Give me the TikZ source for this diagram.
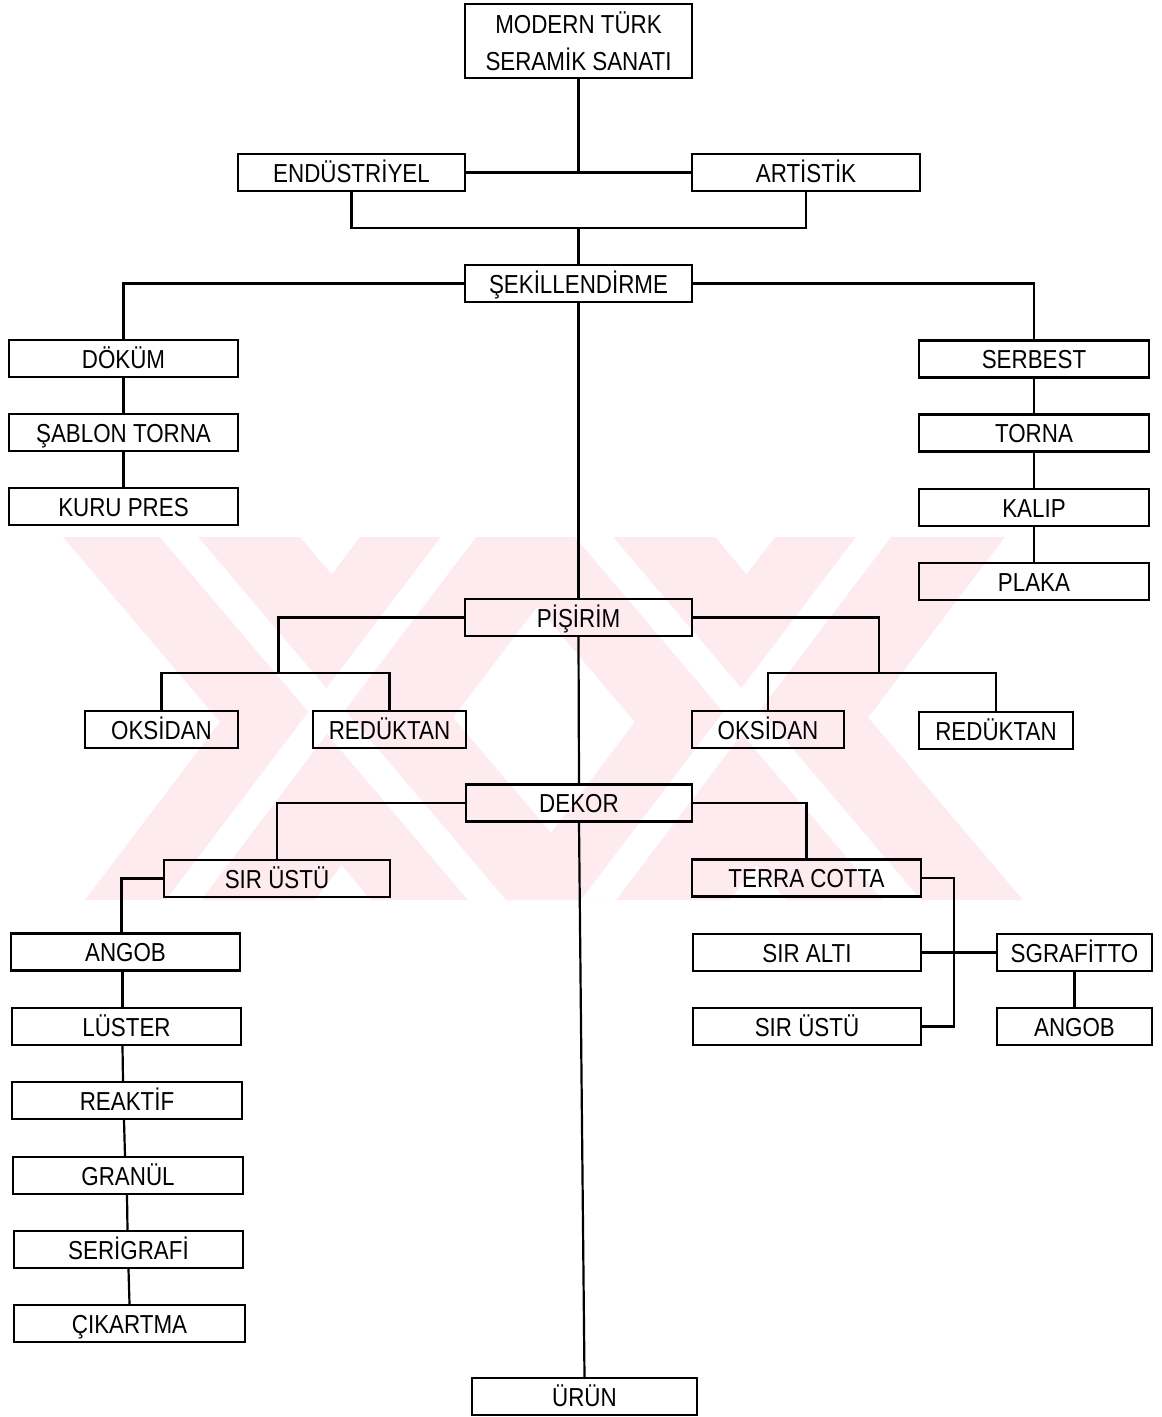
\documentclass[tikz,border=0pt]{standalone}
\usepackage{fontspec}
\setmainfont{Liberation Sans}[FakeStretch=0.86]
\definecolor{wm}{RGB}{253,235,239}
\newcommand\boxfont{\fontsize{26}{37}\selectfont}
\tikzset{
  box/.style={draw, line width=2.4pt, inner sep=0pt, minimum height=37pt,
    text height=19pt, text depth=0pt, font=\boxfont},
  conn/.style={line width=2.2pt}
}
\begin{document}
\begin{tikzpicture}[x=1pt,y=-1pt]
\useasboundingbox (0,0) rectangle (1162,1417);
% watermark
\begin{scope}
\clip (0,537) rectangle (1162,900);
\fill[wm] (63,537) -- (300,537) -- (608,900) -- (371,900) -- cycle;
\fill[wm] (360,537) -- (590,537) -- (315,900) -- (85,900) -- cycle;
\fill[wm] (478,537) -- (715,537) -- (1023,900) -- (786,900) -- cycle;
\fill[wm] (775,537) -- (1005,537) -- (730,900) -- (500,900) -- cycle;
\fill[white] (160,537) -- (198,537) -- (506,900) -- (468,900) -- cycle;
\fill[white] (441,537) -- (476,537) -- (201,900) -- (166,900) -- cycle;
\fill[white] (575,537) -- (613,537) -- (921,900) -- (883,900) -- cycle;
\fill[white] (856,537) -- (891,537) -- (616,900) -- (581,900) -- cycle;
\end{scope}
% nodes
\node[box, minimum width=227pt, minimum height=74pt, text height=, text depth=, align=center] (modern) at (578.5,41) {MODERN TÜRK\\SERAMİK SANATI};
\node[box, minimum width=227pt] (endus) at (351.5,172.5) {ENDÜSTRİYEL};
\node[box, minimum width=228pt] (artis) at (806,172.5) {ARTİSTİK};
\node[box, minimum width=227pt] (sekil) at (578.5,283.5) {ŞEKİLLENDİRME};
\node[box, minimum width=229pt] (dokum) at (123.5,358.5) {DÖKÜM};
\node[box, minimum width=229pt] (sablon) at (123.5,432.5) {ŞABLON TORNA};
\node[box, minimum width=229pt] (kuru) at (123.5,506.5) {KURU PRES};
\node[box, minimum width=230pt] (serbest) at (1034,359) {SERBEST};
\node[box, minimum width=230pt] (torna) at (1034,433) {TORNA};
\node[box, minimum width=230pt] (kalip) at (1034,507.5) {KALIP};
\node[box, minimum width=230pt] (plaka) at (1034,581.5) {PLAKA};
\node[box, minimum width=227pt] (pisirim) at (578.5,617.5) {PİŞİRİM};
\node[box, minimum width=153pt] (oksL) at (161.5,729.5) {OKSİDAN};
\node[box, minimum width=153pt] (redL) at (389.5,729.5) {REDÜKTAN};
\node[box, minimum width=152pt] (oksR) at (768,729.5) {OKSİDAN};
\node[box, minimum width=154pt] (redR) at (996,730.5) {REDÜKTAN};
\node[box, minimum width=226pt] (dekor) at (579,803) {DEKOR};
\node[box, minimum width=226pt] (sirL) at (277,878.5) {SIR ÜSTÜ};
\node[box, minimum width=229pt] (terra) at (806.5,878) {TERRA COTTA};
\node[box, minimum width=229pt] (angobL) at (125.5,952) {ANGOB};
\node[box, minimum width=229pt] (luster) at (126.5,1026.5) {LÜSTER};
\node[box, minimum width=230pt] (reaktif) at (127,1100.5) {REAKTİF};
\node[box, minimum width=230pt] (granul) at (128,1175.5) {GRANÜL};
\node[box, minimum width=229pt] (serig) at (128.5,1249.5) {SERİGRAFİ};
\node[box, minimum width=231pt] (cikart) at (129.5,1323.5) {ÇIKARTMA};
\node[box, minimum width=225pt] (urun) at (584.5,1396.5) {ÜRÜN};
\node[box, minimum width=228pt] (siralti) at (807,952.5) {SIR ALTI};
\node[box, minimum width=228pt] (sirR) at (807,1026.5) {SIR ÜSTÜ};
\node[box, minimum width=155pt] (sgraf) at (1074.5,952.5) {SGRAFİTTO};
\node[box, minimum width=155pt] (angobR) at (1074.5,1026.5) {ANGOB};
% junctions
\coordinate (j2) at (578.5,228);
\coordinate (p1) at (278.5,673);
\coordinate (p2) at (879,673);
\coordinate (t1) at (954,0);
% connectors
\draw[conn] (modern.south) -- (modern.south |- endus.east);
\draw[conn, line width=2.8pt] (endus.east) -- (artis.west);
\draw[conn] (endus.south) |- (j2) -| (artis.south);
\draw[conn] (j2) -- (sekil.north);
\draw[conn] (sekil.west) -| (dokum.north);
\draw[conn] (sekil.east) -| (serbest.north);
\draw[conn] (dokum.south) -- (sablon.north);
\draw[conn] (sablon.south) -- (kuru.north);
\draw[conn] (serbest.south) -- (torna.north);
\draw[conn] (torna.south) -- (kalip.north);
\draw[conn] (kalip.south) -- (plaka.north);
\draw[conn] (sekil.south) -- (pisirim.north);
\draw[conn] (pisirim.west) -| (p1);
\draw[conn] (oksL.north) |- (p1) -| (redL.north);
\draw[conn] (pisirim.east) -| (p2);
\draw[conn] (oksR.north) |- (p2) -| (redR.north);
\draw[conn] (pisirim.south) -- (dekor.north);
\draw[conn] (dekor.west) -| (sirL.north);
\draw[conn] (dekor.east) -| (terra.north);
\draw[conn] (dekor.south) -- (urun.north);
\draw[conn] (sirL.west) -| ([xshift=-4pt]angobL.north);
\draw[conn] ([xshift=-3pt]angobL.south) -- ([xshift=-4pt]luster.north);
\draw[conn] ([xshift=-4pt]luster.south) -- ([xshift=-4pt]reaktif.north);
\draw[conn] ([xshift=-3pt]reaktif.south) -- ([xshift=-3pt]granul.north);
\draw[conn] ([xshift=-1pt]granul.south) -- ([xshift=-1pt]serig.north);
\draw[conn] (serig.south) -- (cikart.north);
\draw[conn] (terra.east) -| (t1 |- sirR.east) -- (sirR.east);
\draw[conn] (siralti.east) -- (sgraf.west);
\draw[conn] (sgraf.south) -- (angobR.north);
\end{tikzpicture}
\end{document}
